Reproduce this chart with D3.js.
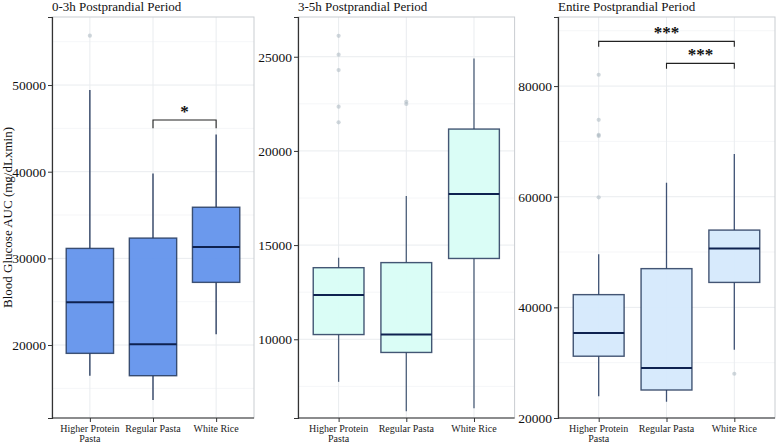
<!DOCTYPE html>
<html>
<head>
<meta charset="utf-8">
<script src="https://cdn.jsdelivr.net/npm/d3@7"></script>
<style>
  body { margin: 0; background: #fff; }
  text { font-family: "Liberation Serif", "DejaVu Serif", serif; }
</style>
</head>
<body>
<svg id="chart" width="777" height="444"></svg>
<script>
// Categories and panel titles
const categories = ["Higher Protein Pasta", "Regular Pasta", "White Rice"];
const panelTitles = ["0-3h Postprandial Period", "3-5h Postprandial Period", "Entire Postprandial Period"];

// Box stats per category: [lower whisker, Q1, median, Q3, upper whisker]
const stats03 = [
  [16460, 19040, 24930, 31150, 49420],
  [13650, 16460, 20080, 32340, 39800],
  [21230, 27230, 31300, 35900, 44300]
];
const stats35 = [
  [7740, 10250, 12350, 13800, 14330],
  [6180, 9300, 10250, 14070, 17600],
  [6340, 14290, 17710, 21160, 24910]
];
const statsAll = [
  [23930, 31170, 35370, 42300, 49580],
  [22940, 25060, 29040, 47000, 62530],
  [32360, 44510, 50660, 53970, 67730]
];

// Outliers per category
const outliers03 = [[55700], [], []];
const outliers35 = [[26110, 25110, 24290, 22350, 21520], [22610, 22490], []];
const outliersAll = [[82050, 73900, 71190, 71000, 59890], [], [28000]];

// y domains and ticks
const domains = [[11580, 57850], [5820, 27110], [20000, 92490]];
const ticks03 = [20000, 30000, 40000, 50000];
const ticks35 = [10000, 15000, 20000, 25000];
const ticksAll = [20000, 40000, 60000, 80000];

// Significance brackets: [from category, to category, y, tip bottom y, label]
const brackets03 = [["Regular Pasta", "White Rice", 45960, 45000, "*"]];
const brackets35 = [];
const bracketsAll = [
  ["Higher Protein Pasta", "White Rice", 88090, 87130, "***"],
  ["Regular Pasta", "White Rice", 84110, 83140, "***"]
];

const fills = ["#6394ec", "#d8fdf6", "#d5e9fc"];
const whiskerColors = ["#22355a", "#4d5f7a", "#3f5275"];

const panels = [
  { stats: stats03, outliers: outliers03, ticks: ticks03, brackets: brackets03 },
  { stats: stats35, outliers: outliers35, ticks: ticks35, brackets: brackets35 },
  { stats: statsAll, outliers: outliersAll, ticks: ticksAll, brackets: bracketsAll }
];

const svg = d3.select("#chart");
const plotTop = 17, plotBottom = 418;
const lefts = [52, 298, 558], rights = [254, 514.6, 775];
const serif = "Liberation Serif, DejaVu Serif, serif";

panels.forEach((p, i) => {
  const g = svg.append("g");
  const x = d3.scalePoint().domain(categories).range([lefts[i], rights[i]]).padding(0.6);
  const y = d3.scaleLinear().domain(domains[i]).range([plotBottom, plotTop]);
  const bw = x.step() * 0.75;

  // minor grid
  const step = p.ticks[1] - p.ticks[0];
  const minor = p.ticks.map(t => t + step / 2)
    .concat([p.ticks[0] - step / 2])
    .filter(v => v > domains[i][0] && v < domains[i][1]);
  g.selectAll(".minor").data(minor).join("line")
    .attr("x1", lefts[i]).attr("x2", rights[i])
    .attr("y1", d => y(d)).attr("y2", d => y(d))
    .attr("stroke", "#f3f4f6").attr("stroke-width", 0.8);
  // major grid
  g.selectAll(".major").data(p.ticks).join("line")
    .attr("x1", lefts[i]).attr("x2", rights[i])
    .attr("y1", d => y(d)).attr("y2", d => y(d))
    .attr("stroke", "#e9ecef").attr("stroke-width", 1);
  g.selectAll(".vgrid").data(categories).join("line")
    .attr("x1", d => x(d)).attr("x2", d => x(d))
    .attr("y1", plotTop).attr("y2", plotBottom)
    .attr("stroke", "#e9ecef").attr("stroke-width", 1);

  // panel border
  g.append("rect").attr("x", lefts[i]).attr("y", plotTop)
    .attr("width", rights[i] - lefts[i]).attr("height", plotBottom - plotTop)
    .attr("fill", "none").attr("stroke", "#c9cdd1").attr("stroke-width", 1);

  // boxes
  p.stats.forEach((s, j) => {
    const cx = x(categories[j]);
    g.append("line").attr("x1", cx).attr("x2", cx)
      .attr("y1", y(s[3])).attr("y2", y(s[4]))
      .attr("stroke", whiskerColors[i]).attr("stroke-width", 1.3);
    g.append("line").attr("x1", cx).attr("x2", cx)
      .attr("y1", y(s[1])).attr("y2", y(s[0]))
      .attr("stroke", whiskerColors[i]).attr("stroke-width", 1.3);
    g.append("rect").attr("x", cx - bw / 2).attr("y", y(s[3]))
      .attr("width", bw).attr("height", y(s[1]) - y(s[3]))
      .attr("fill", fills[i]).attr("fill-opacity", 0.95)
      .attr("stroke", "#25385c").attr("stroke-opacity", 0.85).attr("stroke-width", 1.4);
    g.append("line").attr("x1", cx - bw / 2).attr("x2", cx + bw / 2)
      .attr("y1", y(s[2])).attr("y2", y(s[2]))
      .attr("stroke", "#0e2250").attr("stroke-width", 2);
    g.selectAll(null).data(p.outliers[j]).join("circle")
      .attr("cx", cx).attr("cy", d => y(d)).attr("r", 2.1)
      .attr("fill", "#aab6c0").attr("fill-opacity", 0.55);
  });

  // brackets
  p.brackets.forEach(b => {
    const x1 = x(b[0]), x2 = x(b[1]);
    g.append("path")
      .attr("d", `M${x1},${y(b[3])}V${y(b[2])}H${x2}V${y(b[3])}`)
      .attr("fill", "none").attr("stroke", "#222").attr("stroke-width", 1.1);
    g.append("text").attr("x", (x1 + x2) / 2).attr("y", y(b[2]) - 3)
      .attr("text-anchor", "middle").attr("font-size", 17).attr("font-weight", "bold")
      .attr("fill", "#111").text(b[4]);
  });

  // axes
  const yAxis = d3.axisLeft(y).tickValues(p.ticks).tickSize(4).tickPadding(2).tickFormat(d3.format("d"));
  const ya = g.append("g").attr("transform", `translate(${lefts[i]},0)`).call(yAxis)
    .attr("font-family", serif).attr("font-size", 13);
  ya.select(".domain").attr("stroke", "#333").attr("stroke-width", 1.2);
  ya.selectAll(".tick line").attr("stroke", "#333");
  ya.selectAll(".tick text").attr("fill", "#111").style("font-family", serif).style("font-size", "13.5px");

  const xAxis = d3.axisBottom(x).tickSize(4).tickPadding(3).tickFormat("");
  const xa = g.append("g").attr("transform", `translate(0,${plotBottom})`).call(xAxis);
  xa.select(".domain").attr("stroke", "#333").attr("stroke-width", 1.2).attr("d", `M${lefts[i]},0H${rights[i]}`);
  xa.selectAll(".tick line").attr("stroke", "#333");

  // wrapped x labels
  const labels = { "Higher Protein Pasta": ["Higher Protein", "Pasta"] };
  categories.forEach(c => {
    const lines = labels[c] || [c];
    const t = g.append("text").attr("x", x(c)).attr("y", plotBottom + 14)
      .attr("text-anchor", "middle").attr("font-size", 10).attr("fill", "#222");
    lines.forEach((l, k) => t.append("tspan").attr("x", x(c)).attr("dy", k ? 10 : 0).text(l));
  });

  // title
  g.append("text").attr("x", lefts[i]).attr("y", 11)
    .attr("font-size", 13).attr("fill", "#111").text(panelTitles[i]);
});

// y axis title
svg.append("text")
  .attr("transform", `translate(12,${(plotTop + plotBottom) / 2}) rotate(-90)`)
  .attr("text-anchor", "middle").attr("font-size", 13).attr("fill", "#111")
  .text("Blood Glucose AUC (mg/dLxmin)");
</script>
</body>
</html>
